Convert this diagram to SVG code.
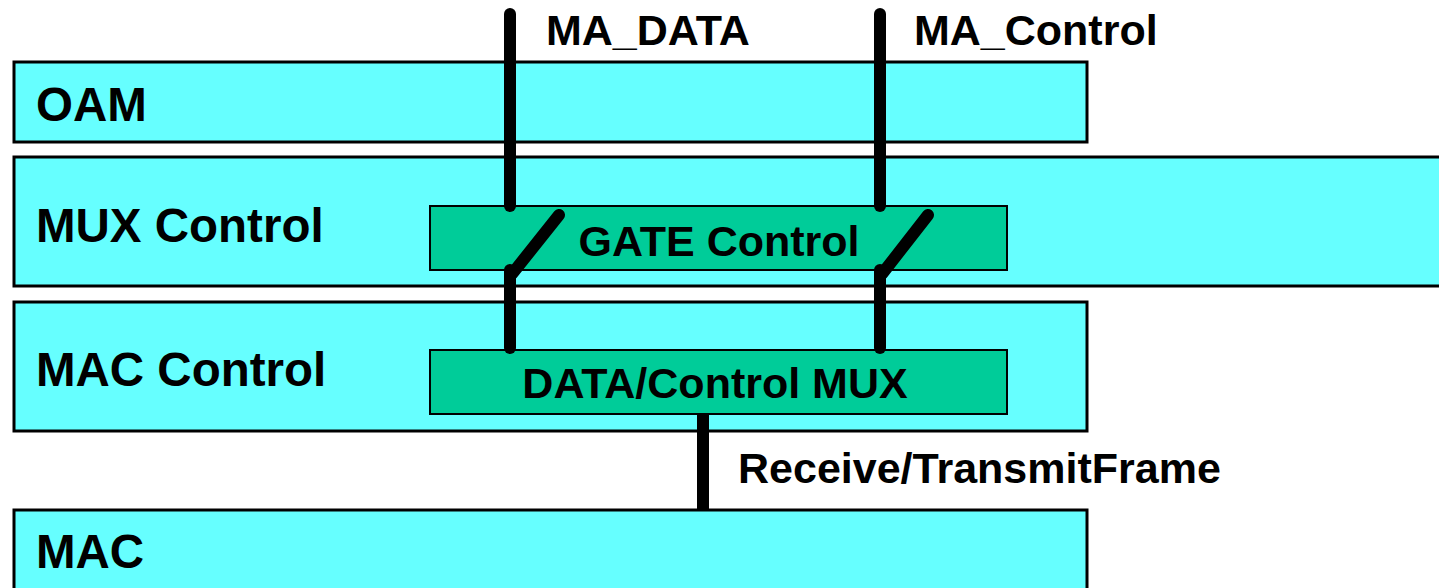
<svg xmlns="http://www.w3.org/2000/svg" width="1439" height="588" viewBox="0 0 1439 588">
<style>
.layer{fill:#66FFFF;stroke:#000;stroke-width:3}
.blk{fill:#00CC99;stroke:#000;stroke-width:2}
.big{font-family:"Liberation Sans",Arial,sans-serif;font-weight:bold;font-size:47.5px;fill:#000}
.lbl{font-family:"Liberation Sans",Arial,sans-serif;font-weight:bold;font-size:43px;fill:#000}
.wire{stroke:#000;stroke-width:12;stroke-linecap:round;fill:none}
</style>
<rect width="1439" height="588" fill="#fff"/>
<g id="oam"><rect class="layer" x="14" y="62" width="1073" height="80"/><text class="big" x="36" y="121">OAM</text></g>
<g id="mux-control"><rect class="layer" x="14" y="157" width="1440" height="129"/><text class="big" x="36" y="242">MUX Control</text></g>
<g id="mac-control"><rect class="layer" x="14" y="302" width="1073" height="129"/><text class="big" x="36" y="386">MAC Control</text></g>
<g id="mac"><rect class="layer" x="14" y="510" width="1073" height="100"/><text class="big" x="36" y="568">MAC</text></g>
<g id="gate-control"><rect class="blk" x="430" y="206" width="577" height="64"/><text class="lbl" x="719" y="256" text-anchor="middle">GATE Control</text></g>
<g id="data-control-mux"><rect class="blk" x="430" y="350" width="577" height="64"/><text class="lbl" x="715" y="398" text-anchor="middle">DATA/Control MUX</text></g>
<g id="connectors">
<line class="wire" x1="510" y1="14" x2="510" y2="206"/>
<line class="wire" x1="512" y1="274" x2="559" y2="215"/>
<line class="wire" x1="510" y1="270" x2="510" y2="348"/>
<line class="wire" x1="880" y1="14" x2="880" y2="206"/>
<line class="wire" x1="882" y1="274" x2="928" y2="215"/>
<line class="wire" x1="880" y1="270" x2="880" y2="348"/>
<line x1="703" y1="414" x2="703" y2="510" stroke="#000" stroke-width="12"/>
<text class="lbl" x="546" y="45">MA_DATA</text>
<text class="lbl" x="914" y="45">MA_Control</text>
<text class="lbl" x="738" y="483">Receive/TransmitFrame</text>
</g>
</svg>
